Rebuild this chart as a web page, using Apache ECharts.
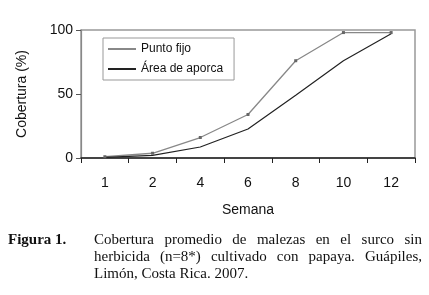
<!DOCTYPE html>
<html><head><meta charset="utf-8">
<script src="https://cdn.jsdelivr.net/npm/echarts@6/dist/echarts.min.js"></script>
<style>html,body{margin:0;padding:0;background:#fff}#c{width:429px;height:295px}</style>
</head><body><div id="c"></div>
<script>
var weeks = ['1','2','4','6','8','10','12'];
var puntoFijo = [1, 3.7, 16, 34, 76, 98, 98];
var areaAporca = [0.5, 2, 8.6, 22.7, 49, 76, 97];
var yTicks = [0, 50, 100];
var captionLabel = 'Figura 1.';
var captionLines = [
  'Cobertura promedio de malezas en el surco sin',
  'herbicida (n=8*) cultivado con papaya. Guápiles,',
  'Limón, Costa Rica. 2007.'
];

var chart = echarts.init(document.getElementById('c'), null, {renderer:'canvas'});
var capFont = '15px "Liberation Serif"';
var ctx = document.createElement('canvas').getContext('2d');
ctx.font = capFont;
var capLeft = 94, capRight = 422, capTop = [241, 258, 275];
var graphics = [{
  type:'text', x:8, y:capTop[0]-8,
  style:{text:captionLabel, font:'bold 15px "Liberation Serif"', fill:'#111'}
}];
captionLines.forEach(function(line, i){
  if (i === captionLines.length-1) {
    graphics.push({type:'text', x:capLeft, y:capTop[i]-8, style:{text:line, font:capFont, fill:'#111'}});
    return;
  }
  var words = line.split(' ');
  var total = 0;
  words.forEach(function(w){ total += ctx.measureText(w).width; });
  var gap = (capRight - capLeft - total) / (words.length - 1);
  var x = capLeft;
  words.forEach(function(w){
    graphics.push({type:'text', x:x, y:capTop[i]-8, style:{text:w, font:capFont, fill:'#111'}});
    x += ctx.measureText(w).width + gap;
  });
});

chart.setOption({
  animation:false,
  textStyle:{fontFamily:'Liberation Sans'},
  grid:{left:81, right:14, top:30, bottom:137, show:true, borderColor:'#999', borderWidth:1.5},
  legend:{
    left:103, top:38, orient:'vertical', itemWidth:28, itemHeight:8, itemGap:8,
    borderColor:'#999', borderWidth:1, borderRadius:0, padding:[5,11,5,4],
    textStyle:{fontSize:12, color:'#111'},
    itemStyle:{opacity:0},
    data:[{name:'Punto fijo'},{name:'Área de aporca'}]
  },
  xAxis:{
    type:'category', data:weeks, boundaryGap:true,
    name:'Semana', nameLocation:'middle', nameGap:45,
    nameTextStyle:{fontSize:14, color:'#111'},
    axisLine:{lineStyle:{color:'#222', width:1.5}},
    axisTick:{show:true, length:5, lineStyle:{color:'#222'}},
    axisLabel:{fontSize:14, color:'#111', margin:18}
  },
  yAxis:{
    type:'value', min:0, max:100, interval:50,
    name:'Cobertura (%)', nameLocation:'middle', nameGap:52, nameRotate:90,
    nameTextStyle:{fontSize:14, color:'#111'},
    axisLine:{show:true, lineStyle:{color:'#888', width:1.2}},
    axisTick:{show:true, length:5, lineStyle:{color:'#555'}},
    axisLabel:{fontSize:14, color:'#111', margin:8},
    splitLine:{show:false}
  },
  series:[
    {name:'Punto fijo', type:'line', data:puntoFijo, color:'#888',
     symbol:'rect', symbolSize:3, showSymbol:true,
     lineStyle:{color:'#888', width:1.3}, itemStyle:{color:'#666'}},
    {name:'Área de aporca', type:'line', data:areaAporca, color:'#222',
     symbol:'none', lineStyle:{color:'#222', width:1.2}}
  ],
  graphic:graphics
});
</script></body></html>
